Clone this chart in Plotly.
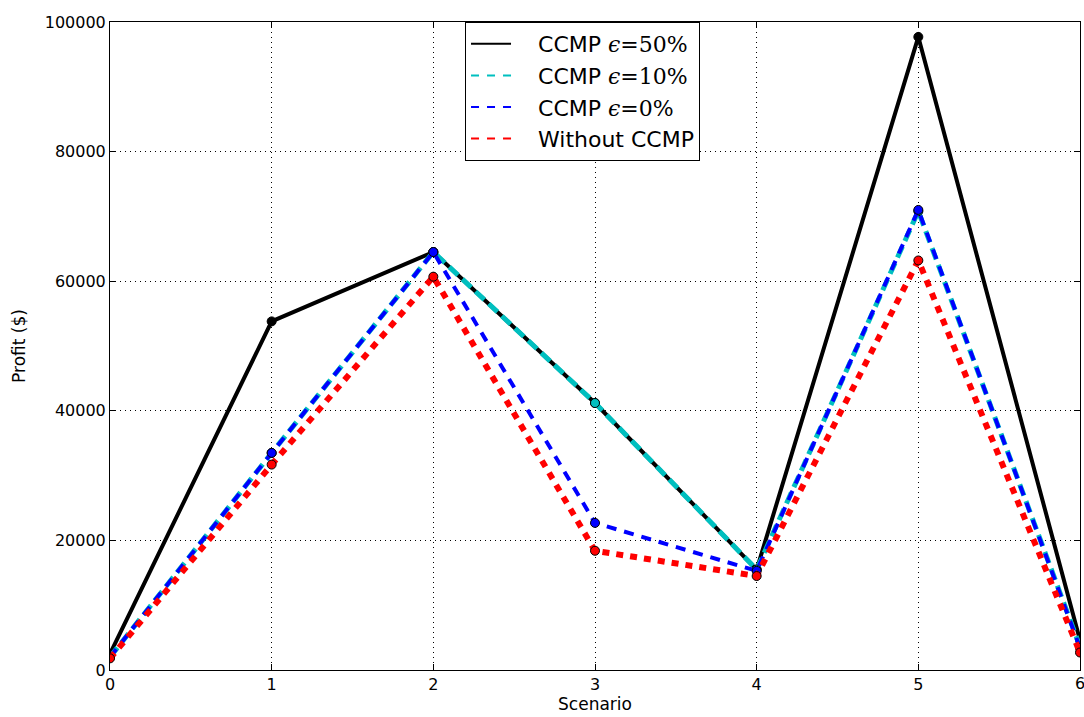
import plotly.graph_objects as go

scenarios = [0, 1, 2, 3, 4, 5, 6]
ccmp_50 = [2500, 53800, 64500, 41200, 15500, 97700, 4600]
ccmp_10 = [2000, 33500, 64500, 41200, 15500, 70800, 3600]
ccmp_0 = [2000, 33500, 64500, 22700, 15300, 71000, 3400]
without = [1800, 31700, 60700, 18400, 14500, 63200, 2700]

names = ["CCMP <span style='font-family:DejaVu Serif'><i>ϵ</i>=50%</span>",
         "CCMP <span style='font-family:DejaVu Serif'><i>ϵ</i>=10%</span>",
         "CCMP <span style='font-family:DejaVu Serif'><i>ϵ</i>=0%</span>",
         "Without CCMP"]
colors = ["black", "#00bfbf", "blue", "red"]
widths = [4, 5, 4, 6]
dashes = ["solid", "12px,6px", "10px,8px", "7px,7px"]
series = [ccmp_50, ccmp_10, ccmp_0, without]
legend_dashes = ["solid", "8px,8px", "8px,8px", "8px,8px"]

fig = go.Figure()
for name, col, w, d, ys in zip(names, colors, widths, dashes, series):
    fig.add_trace(go.Scatter(x=scenarios, y=ys, mode="lines+markers", name=name,
                             showlegend=False,
                             line=dict(color=col, width=w, dash=d),
                             marker=dict(size=9, color=col, line=dict(color="black", width=1))))
for name, col, d in zip(names, colors, legend_dashes):
    fig.add_trace(go.Scatter(x=[None], y=[None], mode="lines", name="\u2003" + name,
                             line=dict(color=col, width=2, dash=d)))

axis_common = dict(showline=True, linecolor="black", linewidth=1, mirror="ticks",
                   ticks="inside", ticklen=6, tickcolor="black",
                   showgrid=True, gridcolor="black", griddash="1px,4px", gridwidth=1,
                   zeroline=False, tickfont=dict(family="DejaVu Sans", size=16, color="black"))

fig.update_layout(
    width=1084, height=717,
    margin=dict(l=110, r=4, t=22, b=47),
    paper_bgcolor="white", plot_bgcolor="white",
    font=dict(family="DejaVu Sans", color="black"),
    xaxis=dict(range=[0, 6], tickmode="array", tickvals=scenarios,
               title=dict(text="Scenario", font=dict(size=17), standoff=4), **axis_common),
    yaxis=dict(range=[0, 100000], tickmode="array",
               tickvals=[0, 20000, 40000, 60000, 80000, 100000],
               ticktext=["0", "20000", "40000", "60000", "80000", "100000"],
               title=dict(text="Profit ($)", font=dict(size=17), standoff=14), **axis_common),
    legend=dict(x=0.366, y=1, xanchor="left", yanchor="top",
                bordercolor="black", borderwidth=1, bgcolor="white",
                font=dict(size=22, family="DejaVu Sans"), itemwidth=40,
                tracegroupgap=0),
    showlegend=True,
)
# last x tick label, which sits on the figure edge (Plotly hides it as a tick label)
fig.add_annotation(x=scenarios[-1], y=0, xref="x", yref="paper", text=str(scenarios[-1]),
                   showarrow=False, xanchor="center", yanchor="top", yshift=-2,
                   font=dict(family="DejaVu Sans", size=16, color="black"))

fig.write_html("out.html", config={"displayModeBar": False},
               post_script="document.body.style.margin='0';document.body.style.overflow='hidden';")
